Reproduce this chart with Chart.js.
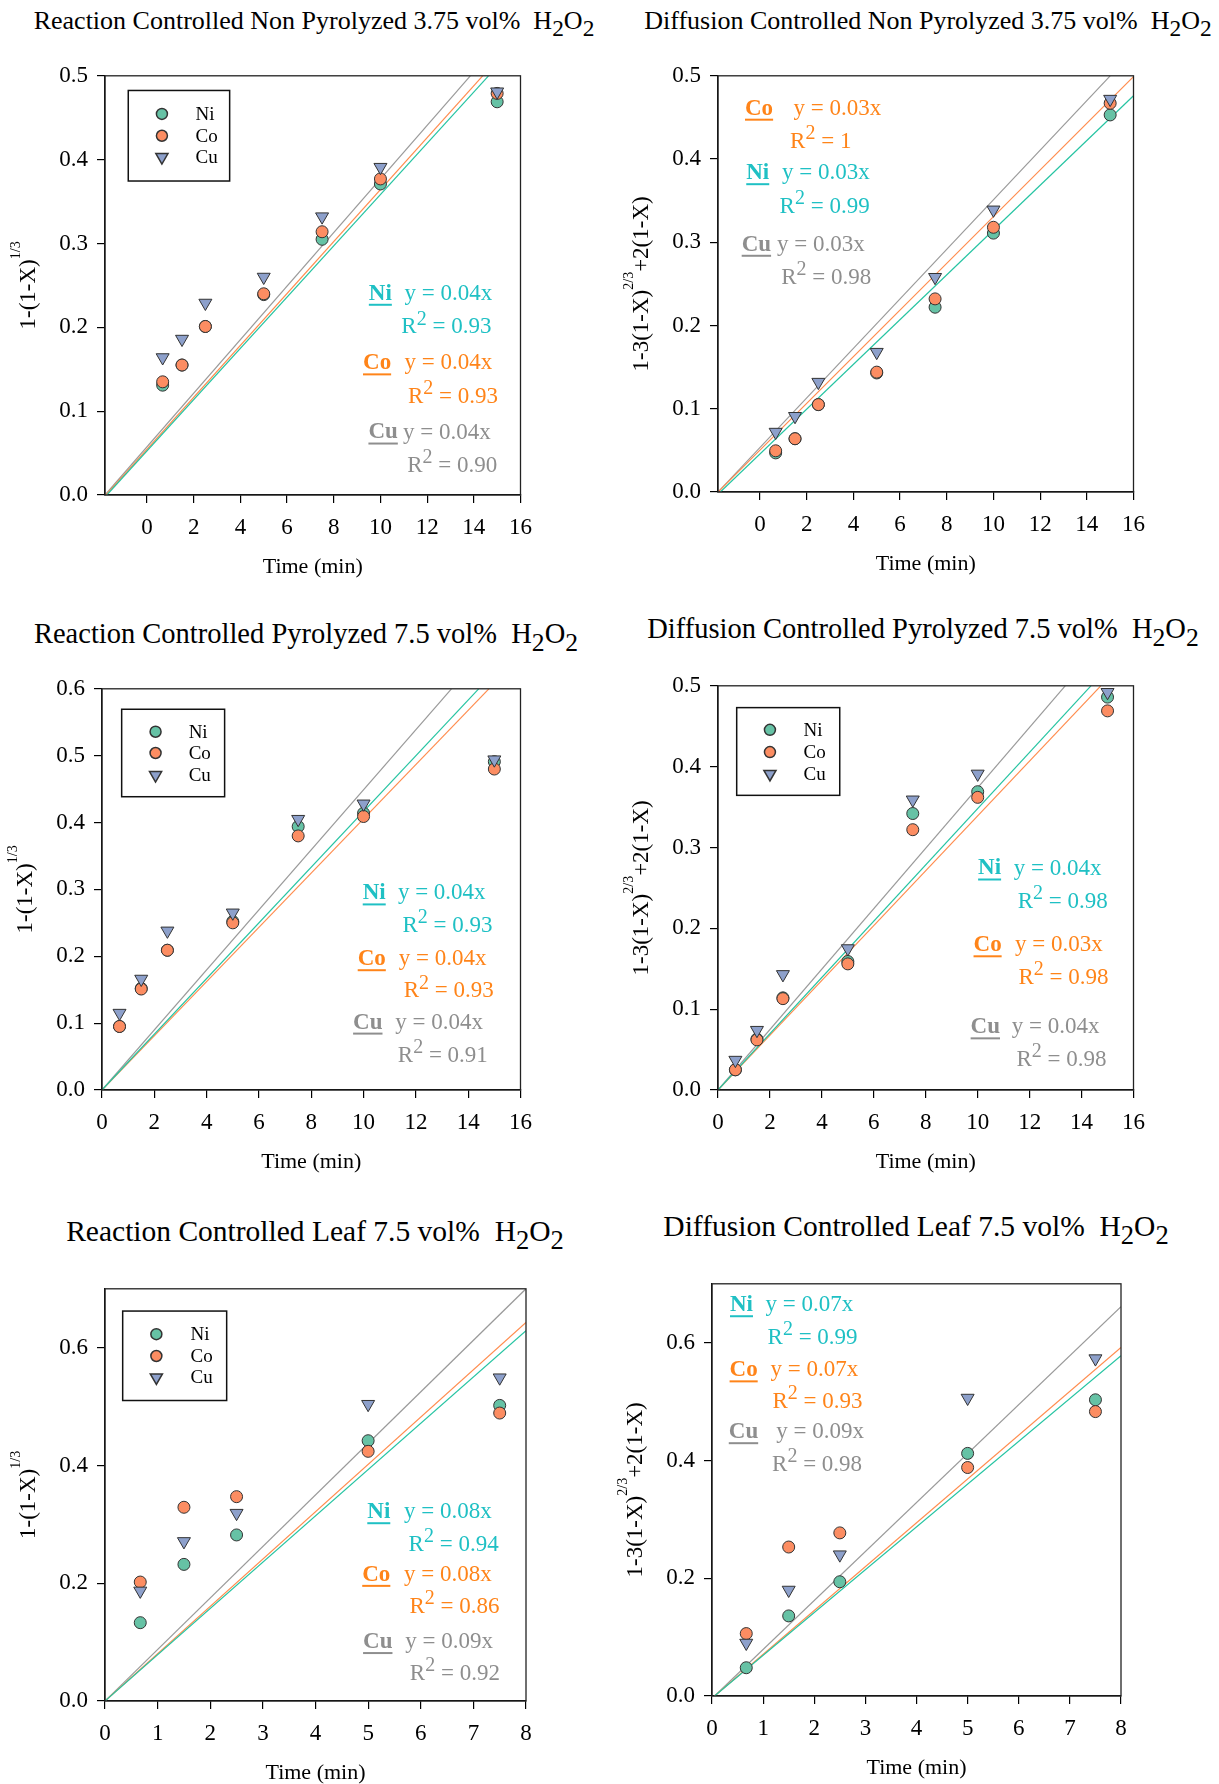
<!DOCTYPE html>
<html>
<head>
<meta charset="utf-8">
<script src="https://cdn.jsdelivr.net/npm/chart.js@4.4.1/dist/chart.umd.min.js"></script>
<style>
  body { margin: 0; background: #fff; width: 1219px; height: 1784px; position: relative; overflow: hidden; }
  .panel { position: absolute; }
  .ttl { position: absolute; transform: translate(-50%, -50%); white-space: nowrap;
         font-family: "Liberation Serif", "Times New Roman", serif; font-size: 26px; color: #000; }
  .ttl.mid { font-size: 28.5px; }
  .ttl.low { font-size: 29.5px; }
  .ttl .s { font-size: 0.9em; position: relative; top: 0.32em; }
</style>
</head>
<body>

<div class="ttl" style="left:314px;top:21px">Reaction Controlled Non Pyrolyzed 3.75 vol%&nbsp; H<span class="s">2</span>O<span class="s">2</span></div>
<div class="ttl" style="left:928px;top:21px">Diffusion Controlled Non Pyrolyzed 3.75 vol%&nbsp; H<span class="s">2</span>O<span class="s">2</span></div>
<div class="ttl mid" style="left:306px;top:634px">Reaction Controlled Pyrolyzed 7.5 vol%&nbsp; H<span class="s">2</span>O<span class="s">2</span></div>
<div class="ttl mid" style="left:923px;top:629px">Diffusion Controlled Pyrolyzed 7.5 vol%&nbsp; H<span class="s">2</span>O<span class="s">2</span></div>
<div class="ttl low" style="left:315px;top:1231px">Reaction Controlled Leaf 7.5 vol%&nbsp; H<span class="s">2</span>O<span class="s">2</span></div>
<div class="ttl low" style="left:916px;top:1226px">Diffusion Controlled Leaf 7.5 vol%&nbsp; H<span class="s">2</span>O<span class="s">2</span></div>

<div class="panel" id="p1"><canvas id="c1"></canvas></div>
<div class="panel" id="p2"><canvas id="c2"></canvas></div>
<div class="panel" id="p3"><canvas id="c3"></canvas></div>
<div class="panel" id="p4"><canvas id="c4"></canvas></div>
<div class="panel" id="p5"><canvas id="c5"></canvas></div>
<div class="panel" id="p6"><canvas id="c6"></canvas></div>

<script>
/* ── data ───────────────────────────────────────── */
const metals = ['Ni', 'Co', 'Cu'];
const timeLong = [0.67, 1.5, 2.5, 5, 7.5, 10, 15];
const timeLeaf = [0.67, 1.5, 2.5, 5, 7.5];

const ticksX16 = [0, 2, 4, 6, 8, 10, 12, 14, 16];
const ticksX8 = [0, 1, 2, 3, 4, 5, 6, 7, 8];
const ticksY05 = [0, 0.1, 0.2, 0.3, 0.4, 0.5];
const ticksY06 = [0, 0.1, 0.2, 0.3, 0.4, 0.5, 0.6];
const ticksY07 = [0, 0.2, 0.4, 0.6];

// reaction controlled, non pyrolyzed 3.75 vol%
const rcNpNi = [0.131, 0.155, 0.201, 0.239, 0.305, 0.371, 0.469];
const rcNpCo = [0.135, 0.155, 0.201, 0.240, 0.314, 0.377, 0.479];
const rcNpCu = [0.164, 0.186, 0.229, 0.260, 0.332, 0.391, 0.481];
const rcNpFitX0 = [-1.72, -1.76, -1.8];   // Ni, Co, Cu  (y = 0)
const rcNpFitX1 = [14.63, 14.38, 13.85];
const rcNpFitY1 = [0.5, 0.5, 0.5];
const rcNpSlope = ['0.04', '0.04', '0.04'];
const rcNpR2 = ['0.93', '0.93', '0.90'];

// diffusion controlled, non pyrolyzed 3.75 vol%
const dcNpNi = [0.047, 0.064, 0.105, 0.143, 0.222, 0.311, 0.453];
const dcNpCo = [0.0495, 0.064, 0.105, 0.144, 0.232, 0.318, 0.467];
const dcNpCu = [0.072, 0.091, 0.132, 0.168, 0.258, 0.339, 0.472];
const dcNpFitX0 = [-1.7, -1.8, -1.8];
const dcNpFitX1 = [16, 16, 15.0];
const dcNpFitY1 = [0.476, 0.499, 0.5];
const dcNpSlope = ['0.03', '0.03', '0.03'];
const dcNpR2 = ['0.99', '1', '0.98'];

// reaction controlled, pyrolyzed 7.5 vol%
const rcPyNi = [0.095, 0.152, 0.209, 0.252, 0.394, 0.414, 0.491];
const rcPyCo = [0.095, 0.151, 0.209, 0.250, 0.380, 0.409, 0.480];
const rcPyCu = [0.115, 0.166, 0.238, 0.265, 0.405, 0.428, 0.494];
const rcPyFitX0 = [0, 0, 0];
const rcPyFitX1 = [14.4, 14.79, 13.36];
const rcPyFitY1 = [0.6, 0.6, 0.6];
const rcPySlope = ['0.04', '0.04', '0.04'];
const rcPyR2 = ['0.93', '0.93', '0.91'];

// diffusion controlled, pyrolyzed 7.5 vol%
const dcPyNi = [0.025, 0.063, 0.114, 0.159, 0.342, 0.369, 0.486];
const dcPyCo = [0.025, 0.062, 0.113, 0.156, 0.322, 0.362, 0.469];
const dcPyCu = [0.037, 0.074, 0.143, 0.175, 0.359, 0.391, 0.492];
const dcPyFitX0 = [0, 0, 0];
const dcPyFitX1 = [14.36, 14.74, 13.37];
const dcPyFitY1 = [0.5, 0.5, 0.5];
const dcPySlope = ['0.04', '0.03', '0.04'];
const dcPyR2 = ['0.98', '0.98', '0.98'];

// reaction controlled, leaf 7.5 vol%
const rcLfNi = [0.133, 0.232, 0.282, 0.442, 0.502];
const rcLfCo = [0.202, 0.329, 0.347, 0.424, 0.489];
const rcLfCu = [0.187, 0.271, 0.319, 0.504, 0.549];
const rcLfFitX0 = [0, 0, 0];
const rcLfFitX1 = [8, 8, 8];
const rcLfFitY1 = [0.629, 0.643, 0.70];
const rcLfSlope = ['0.08', '0.08', '0.09'];
const rcLfR2 = ['0.94', '0.86', '0.92'];

// diffusion controlled, leaf 7.5 vol%
const dcLfNi = [0.048, 0.136, 0.194, 0.412, 0.503];
const dcLfCo = [0.106, 0.253, 0.277, 0.388, 0.483];
const dcLfCu = [0.090, 0.180, 0.240, 0.506, 0.573];
const dcLfFitX0 = [0.05, 0.05, 0.05];
const dcLfFitX1 = [8, 8, 8];
const dcLfFitY1 = [0.578, 0.592, 0.661];
const dcLfSlope = ['0.07', '0.07', '0.09'];
const dcLfR2 = ['0.99', '0.93', '0.98'];

/* ── styling ────────────────────────────────────── */
const FONT = '"Liberation Serif", "Times New Roman", serif';
const markerFill = { Ni: '#66c2a5', Co: '#fc8d62', Cu: '#8da0cb' };
const lineColor = { Ni: '#26c4a2', Co: '#ff8c4e', Cu: '#9a9a9a' };
const textColor = { Ni: '#1fc0c4', Co: '#ff8419', Cu: '#8e8e8e' };

const yTitleReaction = [['1-(1-X)'], ['1/3', true]];
const yTitleDiffusion = [['1-3(1-X)'], ['2/3', true], ['+2(1-X)']];

/* ── drawing helpers ────────────────────────────── */
function drawMarker(ctx, m, x, y) {
  Chart.helpers.drawPoint(ctx, {
    pointStyle: m === 'Cu' ? 'triangle' : 'circle',
    radius: m === 'Cu' ? 7 : 5.5,
    rotation: m === 'Cu' ? 180 : 0,
    borderWidth: 1
  }, x, y);
}

function drawEq(ctx, a, e, m, slope, r2) {
  const w = a.right - a.left, h = a.bottom - a.top;
  ctx.fillStyle = textColor[m];
  ctx.strokeStyle = textColor[m];
  ctx.textBaseline = 'middle';
  ctx.textAlign = 'left';

  // bold underlined metal label
  const lx = a.left + e.lx * w, ly = a.top + e.y * h;
  ctx.font = 'bold 23px ' + FONT;
  ctx.fillText(m, lx, ly);
  const lw = ctx.measureText(m).width;
  ctx.lineWidth = 2;
  ctx.beginPath(); ctx.moveTo(lx, ly + 11); ctx.lineTo(lx + lw, ly + 11); ctx.stroke();

  ctx.font = '23px ' + FONT;
  ctx.fillText('y = ' + slope + 'x', a.left + e.ex * w, ly);

  // R² line, right aligned
  const ry = a.top + e.ry * h;
  const tail = ' = ' + r2;
  ctx.font = '23px ' + FONT;
  const wR = ctx.measureText('R').width, wT = ctx.measureText(tail).width;
  ctx.font = '20px ' + FONT;
  const w2 = ctx.measureText('2').width;
  let x = a.left + e.rx * w - (wR + w2 + wT);
  ctx.font = '23px ' + FONT;
  ctx.fillText('R', x, ry); x += wR;
  ctx.font = '20px ' + FONT;
  ctx.fillText('2', x, ry - 8); x += w2;
  ctx.font = '23px ' + FONT;
  ctx.fillText(tail, x, ry);
}

const decor = {
  id: 'decor',
  afterDraw(chart, args, o) {
    const { ctx, chartArea: a } = chart;
    const w = a.right - a.left, h = a.bottom - a.top;
    ctx.save();

    // frame
    ctx.strokeStyle = '#222';
    ctx.lineWidth = 1.3;
    ctx.strokeRect(a.left, a.top, w, h);

    // legend box
    if (o.legend) {
      const L = o.legend;
      ctx.lineWidth = 1.5;
      ctx.strokeStyle = '#111';
      ctx.fillStyle = '#fff';
      ctx.fillRect(a.left + L.x0 * w, a.top + L.y0 * h, (L.x1 - L.x0) * w, (L.y1 - L.y0) * h);
      ctx.strokeRect(a.left + L.x0 * w, a.top + L.y0 * h, (L.x1 - L.x0) * w, (L.y1 - L.y0) * h);
      metals.forEach((m, i) => {
        const yy = a.top + L.rows[i] * h;
        ctx.fillStyle = markerFill[m];
        ctx.strokeStyle = '#333';
        drawMarker(ctx, m, a.left + L.mx * w, yy);
        ctx.fillStyle = '#000';
        ctx.font = '19px ' + FONT;
        ctx.textAlign = 'left';
        ctx.textBaseline = 'middle';
        ctx.fillText(m, a.left + L.tx * w, yy + 1);
      });
    }

    // fit equations
    o.eqs.forEach(e => {
      const i = metals.indexOf(e.m);
      drawEq(ctx, a, e, e.m, o.slope[i], o.r2[i]);
    });

    // x title
    ctx.fillStyle = '#000';
    ctx.font = '22px ' + FONT;
    ctx.textAlign = 'center';
    ctx.textBaseline = 'middle';
    ctx.fillText('Time (min)', (a.left + a.right) / 2, a.bottom + 72);

    // y title, rotated, with superscript
    ctx.translate(a.left - 76, (a.top + a.bottom) / 2);
    ctx.rotate(-Math.PI / 2);
    ctx.textAlign = 'left';
    const widths = o.yTitle.map(([t, sup]) => {
      ctx.font = (sup ? '14px ' : '23px ') + FONT;
      return ctx.measureText(t).width;
    });
    let x = -widths.reduce((s, v) => s + v, 0) / 2;
    o.yTitle.forEach(([t, sup], i) => {
      ctx.font = (sup ? '14px ' : '23px ') + FONT;
      ctx.fillText(t, x, sup ? -13 : 0);
      x += widths[i];
    });
    ctx.restore();
  }
};

/* ── one panel ──────────────────────────────────── */
const PAD_L = 100, PAD_T = 20, PAD_R = 20, PAD_B = 90;

function makePanel(n, p) {
  const div = document.getElementById('p' + n);
  const cw = (p.box[2] - p.box[0]) + PAD_L + PAD_R;
  const ch = (p.box[3] - p.box[1]) + PAD_T + PAD_B;
  div.style.left = (p.box[0] - PAD_L) + 'px';
  div.style.top = (p.box[1] - PAD_T) + 'px';
  const cv = document.getElementById('c' + n);
  cv.width = cw; cv.height = ch;
  cv.style.width = cw + 'px'; cv.style.height = ch + 'px';

  const ys = [p.ni, p.co, p.cu];
  const datasets = [];
  metals.forEach((m, i) => {
    datasets.push({
      type: 'scatter',
      label: m,
      data: p.x.map((t, k) => ({ x: t, y: ys[i][k] })),
      pointStyle: m === 'Cu' ? 'triangle' : 'circle',
      rotation: m === 'Cu' ? 180 : 0,
      pointRadius: m === 'Cu' ? 7.5 : 6,
      pointBackgroundColor: markerFill[m],
      pointBorderColor: '#333',
      pointBorderWidth: 1,
      order: 3 - i
    });
    datasets.push({
      type: 'line',
      label: m + ' fit',
      data: [{ x: p.fitX0[i], y: 0 }, { x: p.fitX1[i], y: p.fitY1[i] }],
      borderColor: lineColor[m],
      borderWidth: 1.2,
      pointRadius: 0,
      order: 5
    });
  });

  const tickFont = { family: FONT, size: 23 };
  new Chart(cv, {
    data: { datasets },
    options: {
      responsive: false,
      animation: false,
      layout: { padding: { left: 0, top: PAD_T, right: PAD_R, bottom: 0 } },
      plugins: { legend: { display: false }, tooltip: { enabled: false }, decor: p.decor },
      scales: {
        x: {
          type: 'linear', min: p.xr[0], max: p.xr[1],
          afterBuildTicks: s => { s.ticks = p.xt.map(v => ({ value: v })); },
          afterFit: s => { s.height = PAD_B; },
          ticks: { font: tickFont, color: '#000', padding: 11, maxRotation: 0,
                   callback: v => String(v) },
          grid: { drawOnChartArea: false, tickLength: 8, color: '#000', lineWidth: 1.2 },
          border: { color: '#000', width: 1.3 }
        },
        y: {
          type: 'linear', min: 0, max: p.yMax,
          afterBuildTicks: s => { s.ticks = p.yt.map(v => ({ value: v })); },
          afterFit: s => { s.width = PAD_L; },
          ticks: { font: tickFont, color: '#000', padding: 9,
                   callback: v => Number(v).toFixed(1) },
          grid: { drawOnChartArea: false, tickLength: 8, color: '#000', lineWidth: 1.2 },
          border: { color: '#000', width: 1.3 }
        }
      }
    },
    plugins: [decor]
  });
}

/* ── layouts (plot box in page px, text spots as fractions of plot) ── */
const legendA = { x0: 0.056, x1: 0.300, y0: 0.035, y1: 0.251, mx: 0.137, tx: 0.218, rows: [0.091, 0.143, 0.194] };

makePanel(1, {
  box: [105, 73, 523, 495], xr: [-1.8, 16], xt: ticksX16, yMax: 0.5, yt: ticksY05,
  x: timeLong, ni: rcNpNi, co: rcNpCo, cu: rcNpCu,
  fitX0: rcNpFitX0, fitX1: rcNpFitX1, fitY1: rcNpFitY1,
  decor: {
    legend: legendA, yTitle: yTitleReaction, slope: rcNpSlope, r2: rcNpR2,
    eqs: [
      { m: 'Ni', lx: 0.635, ex: 0.721, y: 0.520, rx: 0.930, ry: 0.600 },
      { m: 'Co', lx: 0.621, ex: 0.721, y: 0.686, rx: 0.946, ry: 0.766 },
      { m: 'Cu', lx: 0.634, ex: 0.717, y: 0.851, rx: 0.944, ry: 0.931 }
    ]
  }
});

makePanel(2, {
  box: [718, 73, 1136, 492], xr: [-1.8, 16], xt: ticksX16, yMax: 0.5, yt: ticksY05,
  x: timeLong, ni: dcNpNi, co: dcNpCo, cu: dcNpCu,
  fitX0: dcNpFitX0, fitX1: dcNpFitX1, fitY1: dcNpFitY1,
  decor: {
    yTitle: yTitleDiffusion, slope: dcNpSlope, r2: dcNpR2,
    eqs: [
      { m: 'Co', lx: 0.065, ex: 0.182, y: 0.079, rx: 0.321, ry: 0.159 },
      { m: 'Ni', lx: 0.068, ex: 0.154, y: 0.234, rx: 0.365, ry: 0.315 },
      { m: 'Cu', lx: 0.057, ex: 0.142, y: 0.406, rx: 0.369, ry: 0.486 }
    ]
  }
});

makePanel(3, {
  box: [102, 686, 523, 1090], xr: [0, 16], xt: ticksX16, yMax: 0.6, yt: ticksY06,
  x: timeLong, ni: rcPyNi, co: rcPyCo, cu: rcPyCu,
  fitX0: rcPyFitX0, fitX1: rcPyFitX1, fitY1: rcPyFitY1,
  decor: {
    legend: { x0: 0.047, x1: 0.293, y0: 0.051, y1: 0.269, mx: 0.128, tx: 0.207, rows: [0.107, 0.160, 0.215] },
    yTitle: yTitleReaction, slope: rcPySlope, r2: rcPyR2,
    eqs: [
      { m: 'Ni', lx: 0.623, ex: 0.707, y: 0.510, rx: 0.933, ry: 0.590 },
      { m: 'Co', lx: 0.611, ex: 0.709, y: 0.674, rx: 0.936, ry: 0.754 },
      { m: 'Cu', lx: 0.600, ex: 0.701, y: 0.832, rx: 0.922, ry: 0.914 }
    ]
  }
});

makePanel(4, {
  box: [718, 683, 1136, 1090], xr: [0, 16], xt: ticksX16, yMax: 0.5, yt: ticksY05,
  x: timeLong, ni: dcPyNi, co: dcPyCo, cu: dcPyCu,
  fitX0: dcPyFitX0, fitX1: dcPyFitX1, fitY1: dcPyFitY1,
  decor: {
    legend: { x0: 0.045, x1: 0.293, y0: 0.054, y1: 0.271, mx: 0.125, tx: 0.206, rows: [0.109, 0.164, 0.218] },
    yTitle: yTitleDiffusion, slope: dcPySlope, r2: dcPyR2,
    eqs: [
      { m: 'Ni', lx: 0.626, ex: 0.712, y: 0.452, rx: 0.938, ry: 0.534 },
      { m: 'Co', lx: 0.615, ex: 0.715, y: 0.642, rx: 0.940, ry: 0.723 },
      { m: 'Cu', lx: 0.608, ex: 0.707, y: 0.845, rx: 0.935, ry: 0.926 }
    ]
  }
});

makePanel(5, {
  box: [105, 1286, 526, 1701], xr: [0, 8], xt: ticksX8, yMax: 0.7, yt: ticksY07,
  x: timeLeaf, ni: rcLfNi, co: rcLfCo, cu: rcLfCu,
  fitX0: rcLfFitX0, fitX1: rcLfFitX1, fitY1: rcLfFitY1,
  decor: {
    legend: { x0: 0.042, x1: 0.289, y0: 0.054, y1: 0.271, mx: 0.122, tx: 0.203, rows: [0.110, 0.163, 0.215] },
    yTitle: yTitleReaction, slope: rcLfSlope, r2: rcLfR2,
    eqs: [
      { m: 'Ni', lx: 0.623, ex: 0.710, y: 0.542, rx: 0.935, ry: 0.621 },
      { m: 'Co', lx: 0.611, ex: 0.710, y: 0.694, rx: 0.937, ry: 0.772 },
      { m: 'Cu', lx: 0.613, ex: 0.713, y: 0.857, rx: 0.938, ry: 0.934 }
    ]
  }
});

makePanel(6, {
  box: [712, 1281, 1121, 1696], xr: [0, 8], xt: ticksX8, yMax: 0.7, yt: ticksY07,
  x: timeLeaf, ni: dcLfNi, co: dcLfCo, cu: dcLfCu,
  fitX0: dcLfFitX0, fitX1: dcLfFitX1, fitY1: dcLfFitY1,
  decor: {
    yTitle: yTitleDiffusion, slope: dcLfSlope, r2: dcLfR2,
    eqs: [
      { m: 'Ni', lx: 0.044, ex: 0.131, y: 0.052, rx: 0.356, ry: 0.132 },
      { m: 'Co', lx: 0.043, ex: 0.143, y: 0.210, rx: 0.368, ry: 0.287 },
      { m: 'Cu', lx: 0.041, ex: 0.157, y: 0.360, rx: 0.367, ry: 0.440 }
    ]
  }
});
</script>
</body>
</html>
